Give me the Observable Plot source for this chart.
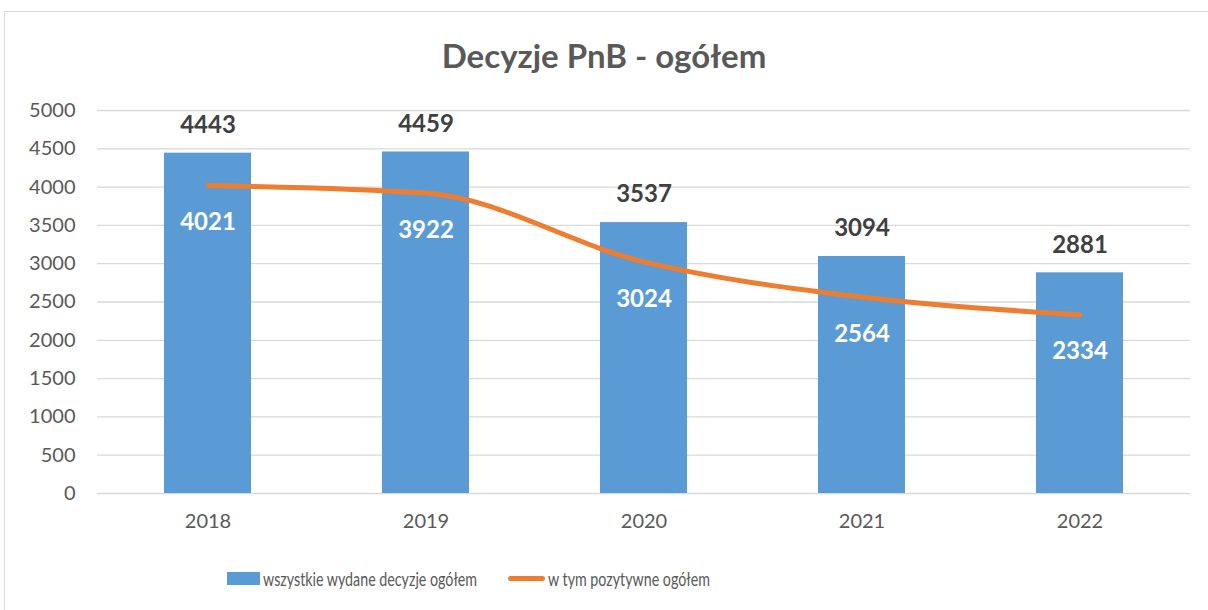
<!DOCTYPE html>
<html><head><meta charset="utf-8">
<script src="https://cdn.jsdelivr.net/npm/d3@7"></script>
<script src="https://cdn.jsdelivr.net/npm/@observablehq/plot@0.6"></script>
<style>
body{margin:0;background:#fff;font-family:Lato,"Open Sans",sans-serif;}
#frame{position:absolute;left:4px;top:11px;width:1230px;height:620px;border:1px solid #d9d9d9;box-sizing:border-box;}
#wrap{position:absolute;left:0;top:0;width:1208px;}
#title{height:95px;box-sizing:border-box;padding-top:39px;text-align:center;font-size:33px;font-weight:700;color:#595959;line-height:1;}
#legend{position:relative;height:60px;font-size:19px;color:#595959;}
.li{position:absolute;top:22px;display:flex;align-items:center;white-space:nowrap;}
.lt{display:inline-block;transform:scaleX(0.75);transform-origin:left center;}
</style></head><body>
<div id="frame"></div>
<div id="wrap">
<div id="title">Decyzje PnB - ogółem</div>
<div id="chart"></div>
<div id="legend">
 <div class="li" style="left:227px"><span style="display:inline-block;width:33px;height:13px;background:#5b9bd5;margin-right:3px"></span><span class="lt">wszystkie wydane decyzje ogółem</span></div>
 <div class="li" style="left:508px"><span style="display:inline-block;width:37px;height:5px;border-radius:3px;background:#ed7d31;margin-right:3px"></span><span class="lt">w tym pozytywne ogółem</span></div>
</div>
</div>
<script>
const years = ["2018","2019","2020","2021","2022"];
const allDecisions = [4443, 4459, 3537, 3094, 2881];
const positive = [4021, 3922, 3024, 2564, 2334];
const yTicks = [0,500,1000,1500,2000,2500,3000,3500,4000,4500,5000];

const data = years.map((y,i)=>({year:y, all:allDecisions[i], pos:positive[i]}));

const chart = Plot.plot({
  width:1208, height:450,
  marginLeft:97, marginRight:18, marginTop:15, marginBottom:52,
  style:{fontFamily:"Lato, 'Open Sans', sans-serif", fontSize:"20px", color:"#595959", background:"transparent"},
  x:{domain:years, paddingInner:0.6, paddingOuter:0.3, label:null, tickSize:0, tickPadding:20},
  y:{domain:[0,5000], ticks:yTicks, tickFormat:d=>String(d), label:null, tickSize:0, tickPadding:22},
  marks:[
    Plot.gridY(yTicks,{stroke:"#d9d9d9", strokeOpacity:1, strokeWidth:1.3}),
    Plot.barY(data,{x:"year", y:"all", fill:"#5b9bd5"}),
    Plot.line(data,{x:"year", y:"pos", stroke:"#ed7d31", strokeWidth:5, curve:"monotone-x", strokeLinecap:"round"}),
    Plot.text(data,{x:"year", y:"all", text:d=>String(d.all), dy:-28, fill:"#404040", fontWeight:700, fontSize:24}),
    Plot.text(data,{x:"year", y:"pos", text:d=>String(d.pos), dy:37, fill:"#ffffff", fontWeight:700, fontSize:24})
  ]
});
document.getElementById("chart").appendChild(chart);
</script>
</body></html>
